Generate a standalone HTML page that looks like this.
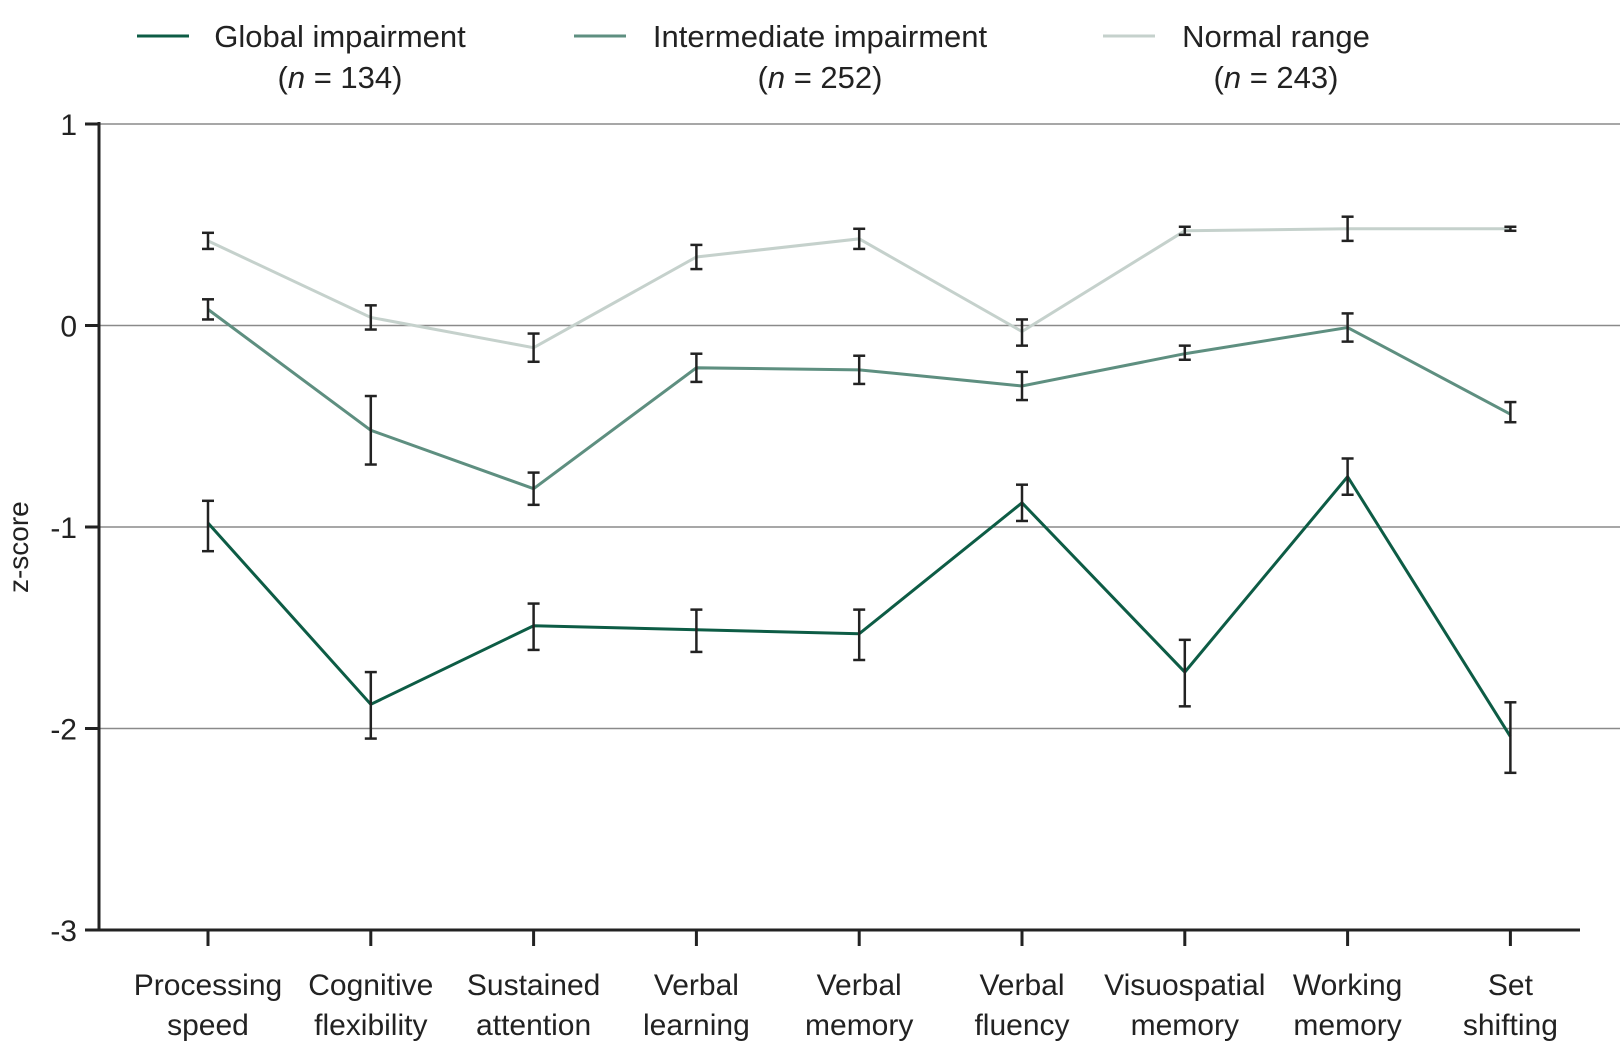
<!DOCTYPE html>
<html><head><meta charset="utf-8"><style>
body{margin:0;background:#fff;}
svg text{font-family:"Liberation Sans",sans-serif;fill:#222;}
</style></head><body>
<svg width="1620" height="1045" viewBox="0 0 1620 1045">
<g id="grid"></g><g id="series"></g><g id="axes"></g><g id="legend"></g>
</svg>
<script>
const categories=[["Processing","speed"],["Cognitive","flexibility"],["Sustained","attention"],["Verbal","learning"],["Verbal","memory"],["Verbal","fluency"],["Visuospatial","memory"],["Working","memory"],["Set","shifting"]];
const yTicks=[1,0,-1,-2,-3];
const globalMean=[-0.98,-1.88,-1.49,-1.51,-1.53,-0.88,-1.72,-0.75,-2.04];
const globalHi=[-0.87,-1.72,-1.38,-1.41,-1.41,-0.79,-1.56,-0.66,-1.87];
const globalLo=[-1.12,-2.05,-1.61,-1.62,-1.66,-0.97,-1.89,-0.84,-2.22];
const interMean=[0.08,-0.52,-0.81,-0.21,-0.22,-0.30,-0.14,-0.01,-0.44];
const interHi=[0.13,-0.35,-0.73,-0.14,-0.15,-0.23,-0.10,0.06,-0.38];
const interLo=[0.03,-0.69,-0.89,-0.28,-0.29,-0.37,-0.17,-0.08,-0.48];
const normMean=[0.42,0.04,-0.11,0.34,0.43,-0.03,0.47,0.48,0.48];
const normHi=[0.46,0.10,-0.04,0.40,0.48,0.03,0.49,0.54,0.49];
const normLo=[0.38,-0.02,-0.18,0.28,0.38,-0.10,0.45,0.42,0.47];
const legendNames=["Global impairment","Intermediate impairment","Normal range"];
const legendN=["134","252","243"];

const NS="http://www.w3.org/2000/svg";
const X0=99,X1=1620,Y=v=>325.5-v*201.5;
const X=i=>208+i*162.8;
function mk(tag,attrs,parent){const e=document.createElementNS(NS,tag);for(const k in attrs)e.setAttribute(k,attrs[k]);parent.appendChild(e);return e;}
const grid=document.getElementById('grid'),series=document.getElementById('series'),axes=document.getElementById('axes'),legend=document.getElementById('legend');
yTicks.forEach(t=>{
  if(t>-3){const l=mk('line',{x1:X0,x2:X1,y1:Y(t),y2:Y(t),stroke:'#8a8a8a','stroke-width':1.5},grid);
  
  }
  const tk=mk('line',{x1:X0-14,x2:X0,y1:Y(t),y2:Y(t),stroke:'#222','stroke-width':3},axes);
  
  
  const tx=mk('text',{x:X0-22,y:Y(t)+11,'text-anchor':'end','font-size':30},axes);tx.textContent=t;
  
  
});
const ya=mk('line',{x1:X0,x2:X0,y1:Y(1)-2,y2:Y(-3)+1.5,stroke:'#222','stroke-width':3},axes);


const xa=mk('line',{x1:X0-14,x2:1580,y1:Y(-3),y2:Y(-3),stroke:'#222','stroke-width':3},axes);


const yt=mk('text',{x:0,y:0,'text-anchor':'middle','font-size':28,transform:'translate(28,'+Y(-1.1)+') rotate(-90)'},axes);yt.textContent='z-score';


categories.forEach((c,i)=>{
  const tk=mk('line',{x1:X(i),x2:X(i),y1:Y(-3),y2:Y(-3)+16,stroke:'#222','stroke-width':3},axes);
  
  
  c.forEach((w,j)=>{const t=mk('text',{x:X(i),y:995+j*40,'text-anchor':'middle','font-size':30},axes);t.textContent=w;
  
  });
});
const groups=[[normMean,normHi,normLo,'#c5d1cc','normal-range'],[interMean,interHi,interLo,'#5e8f80','intermediate-impairment'],[globalMean,globalHi,globalLo,'#0d5c45','global-impairment']];
groups.forEach(([m,h,l,col,name])=>{
  const p=mk('polyline',{points:m.map((v,i)=>X(i)+','+Y(v)).join(' '),fill:'none',stroke:col,'stroke-width':3},series);
  
  
});
groups.forEach(([m,h,l,col,name])=>{
  m.forEach((v,i)=>{
    const g=mk('g',{stroke:'#222','stroke-width':2.5},series);
    
    
    mk('line',{x1:X(i),x2:X(i),y1:Y(h[i]),y2:Y(l[i])},g);
    mk('line',{x1:X(i)-6,x2:X(i)+6,y1:Y(h[i]),y2:Y(h[i])},g);
    mk('line',{x1:X(i)-6,x2:X(i)+6,y1:Y(l[i]),y2:Y(l[i])},g);
  });
});
const lx=[137,574,1103],lc=['#0d5c45','#5e8f80','#c5d1cc'],tx=[340,820,1276];
legendNames.forEach((n,i)=>{
  const g=mk('g',{},legend);
  
  
  mk('line',{x1:lx[i],x2:lx[i]+52,y1:36,y2:36,stroke:lc[i],'stroke-width':3},g);
  const t=mk('text',{x:tx[i],y:47,'text-anchor':'middle','font-size':31},g);t.textContent=n;
  const t2=mk('text',{x:tx[i],y:88,'text-anchor':'middle','font-size':31},g);
  t2.innerHTML='(<tspan font-style="italic">n</tspan> = '+legendN[i]+')';
});
</script>
</body></html>
